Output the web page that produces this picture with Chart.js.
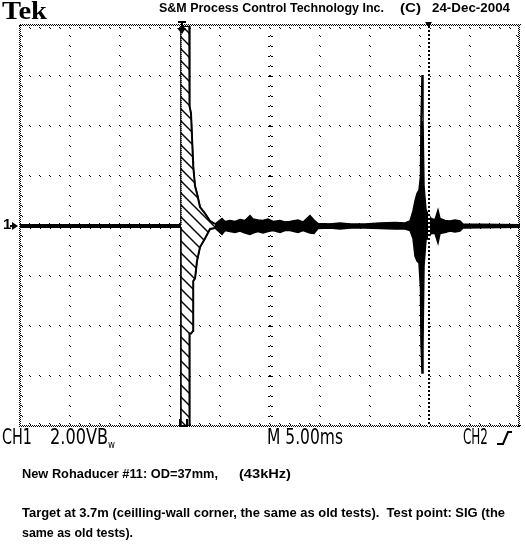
<!DOCTYPE html>
<html>
<head>
<meta charset="utf-8">
<script src="https://cdn.jsdelivr.net/npm/chart.js@4.4.1/dist/chart.umd.min.js"></script>
<style>
  html, body { margin: 0; padding: 0; background: #fff; }
  #wrap { position: relative; width: 525px; height: 560px; overflow: hidden; background: #fff; }
  #c { position: absolute; left: 0; top: 0; }
  .t { position: absolute; white-space: pre; line-height: 1; color: #000; transform-origin: 0 0; }
  .hdr { font-family: "Liberation Sans", Arial, sans-serif; font-weight: bold; font-size: 13px; }
  .tek { font-family: "Liberation Serif", "Times New Roman", serif; font-weight: bold; font-size: 25px; }
  .lcd { font-family: "Liberation Sans Narrow", "DejaVu Sans Condensed", "Liberation Sans", sans-serif; font-size: 21px; }
  .sub { font-family: "Liberation Sans Narrow", "DejaVu Sans Condensed", "Liberation Sans", sans-serif; font-size: 11px; }
  .note { font-family: "Liberation Sans", Arial, sans-serif; font-weight: bold; font-size: 13px; }
</style>
</head>
<body>
<div id="wrap">
  <canvas id="c" width="525" height="560"></canvas>
  <div class="t tek" style="left:2px; top:-1.6px" data-w="45">Tek</div>
  <div class="t hdr" style="left:159px; top:0.7px" data-w="225">S&amp;M Process Control Technology Inc.</div>
  <div class="t hdr" style="left:400px; top:0.7px" data-w="21">(C)</div>
  <div class="t hdr" style="left:432px; top:0.7px" data-w="78">24-Dec-2004</div>
  <div class="t note" style="left:3px; top:216px; font-size:15px">1</div>
  <div class="t lcd" style="left:2px; top:427px" data-w="30">CH1</div>
  <div class="t lcd" style="left:50px; top:427px" data-w="58">2.00VB</div>
  <div class="t sub" style="left:108px; top:438.7px" data-w="7">w</div>
  <div class="t lcd" style="left:267px; top:427px" data-w="76">M 5.00ms</div>
  <div class="t lcd" style="left:463px; top:427px" data-w="25">CH2</div>
  <div class="t note" style="left:22px; top:467px" data-w="196">New Rohaducer #11: OD=37mm,</div>
  <div class="t note" style="left:239px; top:467px" data-w="52">(43kHz)</div>
  <div class="t note" style="left:22px; top:506.3px" data-w="483">Target at 3.7m (ceilling-wall corner, the same as old tests).  Test point: SIG (the</div>
  <div class="t note" style="left:22px; top:525.7px" data-w="111">same as old tests).</div>
</div>
<script>
// ---- Scope settings (tick structure) ----
const timeDivMs = 5;          // M 5.00ms per division
const voltDiv = 2;            // CH1 2.00 V per division
const xDivs = 10, yDivs = 8;
const cursorTimeMs = 40.9;    // vertical cursor position
const triggerTimeMs = 16.1;   // trigger / pulse start
const pulseEndMs = 19.5;      // end of transmit ringing (hatched area)

// ---- CH1 trace, peak-detect envelope (ms, V) ----
const traceT = [
  0, 16.1, 16.1, 16.93, 16.95, 17.1, 17.3, 17.32, 17.5, 17.7, 18.0, 18.5, 19.0, 19.5,
  20.2, 20.5, 21.0, 21.5, 22.0, 22.5, 23.0, 23.3, 23.8, 24.3, 24.8, 25.3, 26.0, 26.5,
  27.0, 27.8, 28.3, 29.0, 29.4, 29.8, 31.0, 32.0, 33.0, 34.5, 36.0, 37.5, 38.5, 39.0,
  39.3, 39.5, 39.7, 39.9, 40.05, 40.1, 40.2, 40.3, 40.4, 40.6, 40.8, 41.1, 41.5, 41.8,
  42.0, 42.5, 43.0, 43.5, 44.0, 44.3, 50
];
const traceMax = [
  0.05, 0.05, 8, 8, 4.8, 4.5, 2.6, 2.4, 1.6, 1.3, 0.76, 0.5, 0.2, 0.08,
  0.3, 0.18, 0.22, 0.18, 0.26, 0.22, 0.42, 0.28, 0.24, 0.22, 0.28, 0.18, 0.22, 0.16,
  0.18, 0.24, 0.16, 0.42, 0.24, 0.1, 0.08, 0.12, 0.08, 0.08, 0.12, 0.14, 0.12, 0.2,
  0.6, 1.0, 1.3, 1.44, 2.0, 4.2, 6.04, 4.2, 1.6, 0.64, 0.5, 0.3, 0.25, 0.64,
  0.3, 0.22, 0.2, 0.24, 0.2, 0.08, 0.05
];
const traceMin = [
  -0.05, -0.05, -8, -8, -4.3, -4.3, -4.2, -2.2, -2.1, -1.4, -0.84, -0.5, -0.12, -0.08,
  -0.34, -0.18, -0.22, -0.26, -0.2, -0.28, -0.34, -0.28, -0.22, -0.28, -0.22, -0.18, -0.26, -0.18,
  -0.18, -0.26, -0.18, -0.28, -0.3, -0.1, -0.08, -0.12, -0.08, -0.08, -0.1, -0.12, -0.12, -0.18,
  -0.5, -1.2, -1.4, -1.48, -2.5, -4.7, -5.88, -4.7, -1.6, -0.56, -0.5, -0.3, -0.3, -0.68,
  -0.3, -0.26, -0.2, -0.24, -0.2, -0.08, -0.05
];

// ---- build library datasets ----
const toPts = (ts, vs) => ts.map((t, i) => ({ x: t, y: vs[i] }));
const inPulse = (t) => t >= triggerTimeMs && t <= pulseEndMs;
const pulseT = traceT.filter(inPulse);
const pulseMax = traceMax.filter((v, i) => inPulse(traceT[i]));
const pulseMin = traceMin.filter((v, i) => inPulse(traceT[i]));

const canvas = document.getElementById('c');
const ctx = canvas.getContext('2d');

// diagonal hatch used by the scope for the saturated transmit burst
const pc = document.createElement('canvas');
pc.width = 12; pc.height = 12;
const pctx = pc.getContext('2d');
pctx.fillStyle = '#fff'; pctx.fillRect(0, 0, 12, 12);
pctx.strokeStyle = '#000'; pctx.lineWidth = 1.4;
pctx.beginPath(); pctx.moveTo(-2, -2); pctx.lineTo(14, 14); pctx.stroke();
pctx.beginPath(); pctx.moveTo(-2, 10); pctx.lineTo(2, 14); pctx.stroke();
pctx.beginPath(); pctx.moveTo(10, -2); pctx.lineTo(14, 2); pctx.stroke();
const hatch = ctx.createPattern(pc, 'repeat');

const vertDash = {
  borderDash: (c) => (c.p0.parsed.x === c.p1.parsed.x ? [1, 1] : undefined)
};

const graticule = {
  id: 'graticule',
  beforeDatasetsDraw(chart) {
    const c = chart.ctx, xs = chart.scales.x, ys = chart.scales.y;
    const a = chart.chartArea;
    const L = Math.round(a.left), R = Math.round(a.right), T = Math.round(a.top), B = Math.round(a.bottom);
    c.save();
    c.fillStyle = '#000';
    const tMax = xDivs * timeDivMs, vMin = -yDivs / 2 * voltDiv, vMax = yDivs / 2 * voltDiv;
    const minorT = timeDivMs / 5, minorV = voltDiv / 5;
    for (let t = timeDivMs; t < tMax; t += timeDivMs) {
      const x = Math.round(xs.getPixelForValue(t));
      const center = Math.abs(t - tMax / 2) < 1e-6;
      for (let v = vMin + minorV; v < vMax - 1e-6; v += minorV) {
        const y = Math.round(ys.getPixelForValue(v));
        if (center) { c.fillRect(x - 2, y, 2, 1); c.fillRect(x, y - 1, 1, 1); c.fillRect(x + 1, y, 2, 1); }
        else { c.fillRect(x - 1, y - 1, 1, 1); c.fillRect(x, y, 1, 1); }
      }
    }
    for (let v = vMin + voltDiv; v < vMax; v += voltDiv) {
      const y = Math.round(ys.getPixelForValue(v));
      const center = Math.abs(v) < 1e-6;
      for (let t = minorT; t < tMax - 1e-6; t += minorT) {
        const x = Math.round(xs.getPixelForValue(t));
        if (center) { c.fillRect(x - 1, y - 3, 1, 1); c.fillRect(x, y - 2, 1, 5); }
        else { c.fillRect(x - 1, y - 1, 1, 1); c.fillRect(x, y, 1, 1); }
      }
    }
    for (let x = L - 1; x <= R; x++) {
      c.fillRect(x, T - 2 + (x & 1), 1, 1);
      c.fillRect(x, B - 1 + (x & 1), 1, 1);
    }
    for (let y = T - 1; y <= B; y++) {
      c.fillRect(L - 1 + (y & 1), y, 1, 1);
      c.fillRect(R - 2 + (y & 1), y, 1, 1);
    }
    for (let t = minorT; t < tMax - 1e-6; t += minorT) {
      const x = Math.round(xs.getPixelForValue(t));
      c.fillRect(x - 1, T + 1, 1, 1); c.fillRect(x, T + 2, 1, 1);
      c.fillRect(x - 1, B - 3, 1, 1); c.fillRect(x, B - 2, 1, 1);
    }
    for (let v = vMin + minorV; v < vMax - 1e-6; v += minorV) {
      const y = Math.round(ys.getPixelForValue(v));
      c.fillRect(L + 1, y - 1, 1, 1); c.fillRect(L + 2, y, 1, 1);
      c.fillRect(R - 4, y - 1, 1, 1); c.fillRect(R - 3, y, 1, 1);
    }
    c.restore();
  },
  afterDatasetsDraw(chart) {
    const c = chart.ctx, xs = chart.scales.x, ys = chart.scales.y;
    const a = chart.chartArea;
    c.save();
    const cx = Math.round(xs.getPixelForValue(cursorTimeMs));
    c.fillStyle = '#fff';
    c.fillRect(cx - 1, a.top, 2, a.bottom - a.top);
    c.fillStyle = '#000';
    for (let y = Math.round(a.top); y < a.bottom; y += 4) c.fillRect(cx - 1, y, 2, 2);
    const tx = Math.round(xs.getPixelForValue(triggerTimeMs));
    c.fillRect(tx - 3, 21, 8, 2);
    c.fillRect(tx, 21, 2, 7);
    c.beginPath(); c.moveTo(tx - 4, 28); c.lineTo(tx + 5, 28); c.lineTo(tx + 1, 34); c.closePath(); c.fill();
    c.lineWidth = 2; c.strokeStyle = '#000';
    c.beginPath(); c.moveTo(tx - 1, 419); c.lineTo(tx - 1, 426); c.lineTo(tx + 6, 426); c.lineTo(tx + 6, 419); c.stroke();
    c.beginPath(); c.moveTo(cx - 4, 22); c.lineTo(cx + 3, 22); c.lineTo(cx - 0.5, 27); c.closePath(); c.fill();
    const gy = Math.round(ys.getPixelForValue(0));
    c.beginPath(); c.moveTo(12, gy - 4); c.lineTo(18, gy); c.lineTo(12, gy + 4); c.closePath(); c.fill();
    c.fillRect(10, gy - 1, 4, 2);
    c.lineWidth = 2;
    c.beginPath(); c.moveTo(497, 444); c.lineTo(503, 444); c.lineTo(508, 432); c.lineTo(512, 432); c.stroke();
    c.restore();
  }
};

new Chart(ctx, {
  type: 'line',
  data: {
    datasets: [
      { data: toPts(traceT, traceMax), borderColor: '#000', borderWidth: 1.5, fill: false, order: 3, clip: 0 },
      { data: toPts(traceT, traceMin), borderColor: '#000', borderWidth: 1.5, fill: '-1', backgroundColor: '#000', order: 3, clip: 0 },
      { data: toPts(pulseT, pulseMax), borderColor: '#000', borderWidth: 2, fill: false, order: 1, clip: 0, segment: vertDash },
      { data: toPts(pulseT, pulseMin), borderColor: '#000', borderWidth: 2, fill: '-1', backgroundColor: hatch, order: 1, clip: 0, segment: vertDash }
    ]
  },
  options: {
    responsive: false,
    animation: false,
    devicePixelRatio: 1,
    layout: { padding: { left: 20, top: 26, right: 5, bottom: 134 } },
    scales: {
      x: { type: 'linear', min: 0, max: xDivs * timeDivMs, display: false },
      y: { type: 'linear', min: -yDivs / 2 * voltDiv, max: yDivs / 2 * voltDiv, display: false }
    },
    elements: { point: { radius: 0 }, line: { tension: 0, borderCapStyle: 'butt', borderJoinStyle: 'miter' } },
    plugins: { legend: { display: false }, tooltip: { enabled: false }, title: { display: false } }
  },
  plugins: [graticule]
});

function fitTexts() {
  document.querySelectorAll('.t[data-w]').forEach(el => {
    el.style.transform = 'none';
    const w = el.getBoundingClientRect().width;
    const target = parseFloat(el.dataset.w);
    if (w > 0) el.style.transform = 'scaleX(' + (target / w) + ')';
  });
}
fitTexts();
if (document.fonts && document.fonts.ready) document.fonts.ready.then(fitTexts);
</script>
</body>
</html>
